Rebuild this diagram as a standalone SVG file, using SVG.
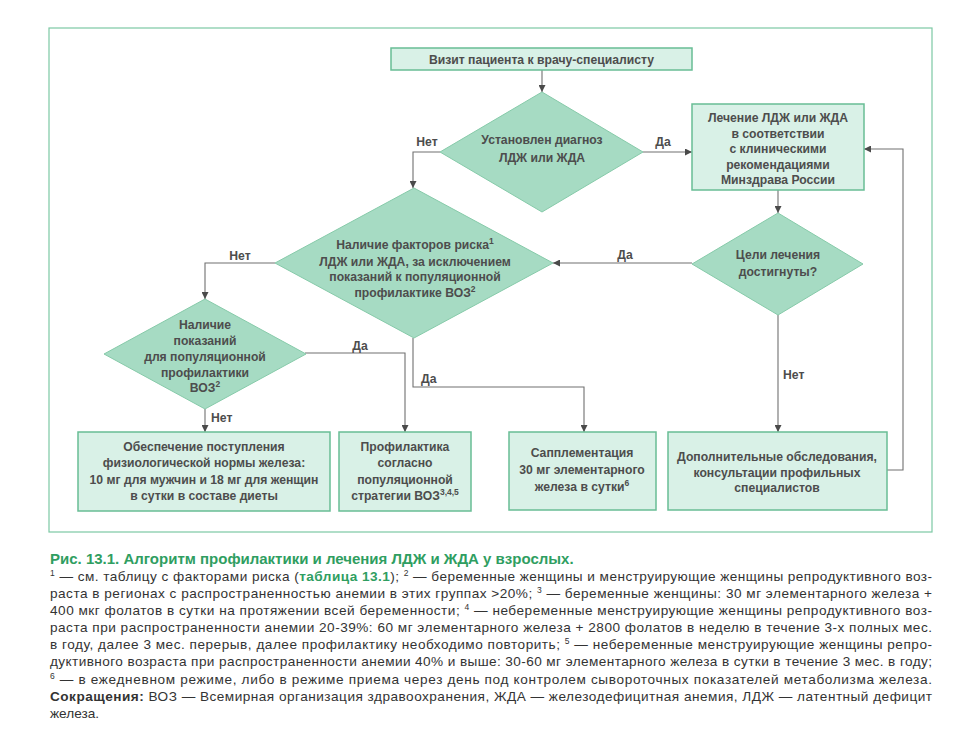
<svg xmlns="http://www.w3.org/2000/svg" width="960" height="730" viewBox="0 0 960 730">
<defs>
<style>
.t{font-family:"Liberation Sans","DejaVu Sans",sans-serif;font-size:12.2px;font-weight:bold;fill:#4d4d4d;text-anchor:middle}
.l{font-family:"Liberation Sans","DejaVu Sans",sans-serif;font-size:12.2px;font-weight:bold;fill:#4d4d4d}
.box{fill:#d9f1e7;stroke:#68bd95;stroke-width:1.5}
.dia{fill:#a6dbc3;stroke:#86caa9;stroke-width:1}
.c{fill:none;stroke:#707070;stroke-width:1.1}
.cap{font-family:"Liberation Sans","DejaVu Sans",sans-serif;font-size:13.6px;fill:#333333}
.g{fill:#2f9e61;font-weight:bold}
.b{font-weight:bold}
.sup{font-size:8.5px;baseline-shift:super}
</style>
<marker id="ah" viewBox="0 0 10 10" refX="10" refY="5" markerWidth="7" markerHeight="7" orient="auto" markerUnits="userSpaceOnUse">
<path d="M0,0 L10,5 L0,10 z" fill="#4a4a4a"/>
</marker>
</defs>
<rect width="960" height="730" fill="#ffffff"/>
<rect x="49" y="28" width="883" height="504" fill="#ffffff" stroke="#7cc9a4" stroke-width="1.2"/>

<g id="connectors">
<path class="c" d="M542,70 V92" marker-end="url(#ah)"/>
<path class="c" d="M440,152 H413 V188" marker-end="url(#ah)"/>
<path class="c" d="M643,152 H692" marker-end="url(#ah)"/>
<path class="c" d="M778,190 V213" marker-end="url(#ah)"/>
<path class="c" d="M692,263 H553" marker-end="url(#ah)"/>
<path class="c" d="M778,315 V432" marker-end="url(#ah)"/>
<path class="c" d="M275,263 H205 V299" marker-end="url(#ah)"/>
<path class="c" d="M413,338 V387 H584 V432" marker-end="url(#ah)"/>
<path class="c" d="M305,353 H405 V432" marker-end="url(#ah)"/>
<path class="c" d="M205,409 V432" marker-end="url(#ah)"/>
<path class="c" d="M887,470 H903 V149 H864" marker-end="url(#ah)"/>
<text class="t" x="427" y="146">Нет</text>
<text class="t" x="663" y="146">Да</text>
<text class="t" x="625" y="259">Да</text>
<text class="l" x="783" y="379">Нет</text>
<text class="t" x="240" y="260">Нет</text>
<text class="l" x="421" y="383">Да</text>
<text class="t" x="360" y="350">Да</text>
<text class="l" x="211" y="422">Нет</text>
</g>

<g id="visit">
<rect class="box" x="391" y="48" width="301" height="22"/>
<text class="t" x="541.5" y="63.5">Визит пациента к врачу-специалисту</text>
</g>

<g id="diag">
<polygon class="dia" points="542,92 643,152 542,212 440,152"/>
<text class="t" x="542" y="144">Установлен диагноз</text>
<text class="t" x="542" y="162">ЛДЖ или ЖДА</text>
</g>

<g id="treat">
<rect class="box" x="692" y="104" width="172" height="86"/>
<text class="t" x="778" y="122">Лечение ЛДЖ или ЖДА</text>
<text class="t" x="778" y="137.5">в соответствии</text>
<text class="t" x="778" y="153">с клиническими</text>
<text class="t" x="778" y="168.5">рекомендациями</text>
<text class="t" x="778" y="184">Минздрава России</text>
</g>

<g id="goals">
<polygon class="dia" points="778,213 863,264 778,315 692,264"/>
<text class="t" x="778" y="259">Цели лечения</text>
<text class="t" x="778" y="276">достигнуты?</text>
</g>

<g id="risk">
<polygon class="dia" points="414,188 553,263 414,338 275,263"/>
<text class="t" x="415" y="249">Наличие факторов риска<tspan class="sup">1</tspan></text>
<text class="t" x="415" y="265.5">ЛДЖ или ЖДА, за исключением</text>
<text class="t" x="415" y="281">показаний к популяционной</text>
<text class="t" x="415" y="297">профилактике ВОЗ<tspan class="sup">2</tspan></text>
</g>

<g id="indic">
<polygon class="dia" points="205,299 306,354 205,409 104,354"/>
<text class="t" x="205" y="329">Наличие</text>
<text class="t" x="205" y="344.5">показаний</text>
<text class="t" x="205" y="361">для популяционной</text>
<text class="t" x="205" y="376.5">профилактики</text>
<text class="t" x="205" y="392">ВОЗ<tspan class="sup">2</tspan></text>
</g>

<g id="diet">
<rect class="box" x="78" y="432" width="252" height="79"/>
<text class="t" x="204" y="451">Обеспечение поступления</text>
<text class="t" x="204" y="467">физиологической нормы железа:</text>
<text class="t" x="204" y="484">10 мг для мужчин и 18 мг для женщин</text>
<text class="t" x="204" y="499.5">в сутки в составе диеты</text>
</g>

<g id="prof">
<rect class="box" x="339" y="432" width="132" height="79"/>
<text class="t" x="405" y="451">Профилактика</text>
<text class="t" x="405" y="467">согласно</text>
<text class="t" x="405" y="484">популяционной</text>
<text class="t" x="405" y="499.5">стратегии ВОЗ<tspan class="sup">3,4,5</tspan></text>
</g>

<g id="suppl">
<rect class="box" x="509" y="432" width="147" height="78"/>
<text class="t" x="582" y="457">Сапплементация</text>
<text class="t" x="582" y="474">30 мг элементарного</text>
<text class="t" x="582" y="491">железа в сутки<tspan class="sup">6</tspan></text>
</g>

<g id="extra">
<rect class="box" x="668" y="432" width="219" height="78"/>
<text class="t" x="777" y="461">Дополнительные обследования,</text>
<text class="t" x="777" y="476.5">консультации профильных</text>
<text class="t" x="777" y="492">специалистов</text>
</g>

<g id="caption">
<text class="cap g" x="50" y="564" style="font-size:15px">Рис. 13.1. Алгоритм профилактики и лечения ЛДЖ и ЖДА у взрослых.</text>
<text class="cap" x="50" y="581" textLength="882" lengthAdjust="spacing"><tspan class="sup">1</tspan> — см. таблицу с факторами риска (<tspan class="g">таблица 13.1</tspan>); <tspan class="sup">2</tspan> — беременные женщины и менструирующие женщины репродуктивного воз-</text>
<text class="cap" x="50" y="598" textLength="882" lengthAdjust="spacing">раста в регионах с распространенностью анемии в этих группах &gt;20%; <tspan class="sup">3</tspan> — беременные женщины: 30 мг элементарного железа +</text>
<text class="cap" x="50" y="615" textLength="882" lengthAdjust="spacing">400 мкг фолатов в сутки на протяжении всей беременности; <tspan class="sup">4</tspan> — небеременные менструирующие женщины репродуктивного воз-</text>
<text class="cap" x="50" y="632" textLength="882" lengthAdjust="spacing">раста при распространенности анемии 20-39%: 60 мг элементарного железа + 2800 фолатов в неделю в течение 3-х полных мес.</text>
<text class="cap" x="50" y="649" textLength="882" lengthAdjust="spacing">в году, далее 3 мес. перерыв, далее профилактику необходимо повторить; <tspan class="sup">5</tspan> — небеременные менструирующие женщины репро-</text>
<text class="cap" x="50" y="666" textLength="882" lengthAdjust="spacing">дуктивного возраста при распространенности анемии 40% и выше: 30-60 мг элементарного железа в сутки в течение 3 мес. в году;</text>
<text class="cap" x="50" y="684" textLength="882" lengthAdjust="spacing"><tspan class="sup">6</tspan> — в ежедневном режиме, либо в режиме приема через день под контролем сывороточных показателей метаболизма железа.</text>
<text class="cap" x="50" y="701" textLength="882" lengthAdjust="spacing"><tspan class="b">Сокращения:</tspan> ВОЗ — Всемирная организация здравоохранения, ЖДА — железодефицитная анемия, ЛДЖ — латентный дефицит</text>
<text class="cap" x="50" y="718">железа.</text>
</g>
</svg>
